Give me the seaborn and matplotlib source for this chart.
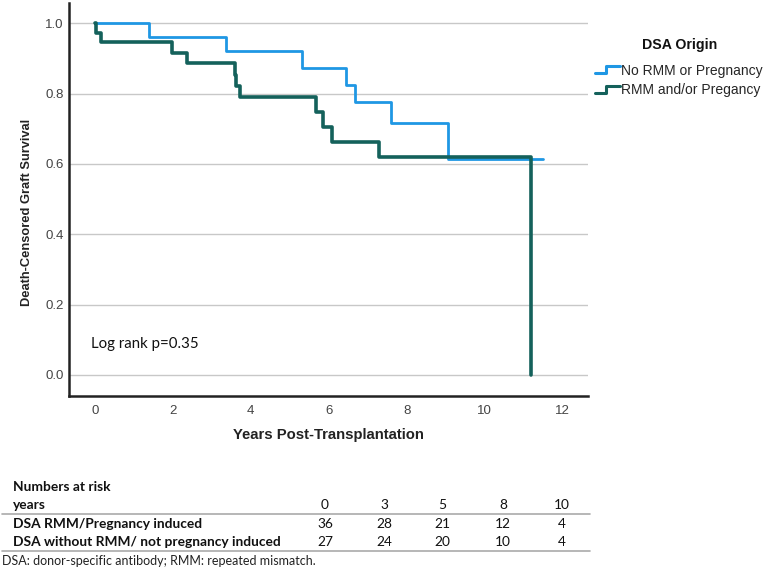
import numpy as np
import pandas as pd
import seaborn as sns
import matplotlib.pyplot as plt
from matplotlib.lines import Line2D
from matplotlib.legend_handler import HandlerBase

# Kaplan-Meier step values
no_rmm_years = [0, 1.38, 3.35, 5.31, 6.43, 6.66, 7.60, 9.05, 11.49]
no_rmm_surv = [1.0, 0.962, 0.920, 0.874, 0.825, 0.776, 0.717, 0.615, 0.615]
rmm_years = [0, 0.02, 0.15, 1.98, 2.37, 3.59, 3.63, 3.71, 5.66, 5.86, 6.07, 7.30, 11.19, 11.19]
rmm_surv = [1.0, 0.972, 0.946, 0.917, 0.886, 0.852, 0.822, 0.790, 0.747, 0.706, 0.663, 0.621, 0.621, 0.0]

groups = ["No RMM or Pregnancy", "RMM and/or Pregancy"]
colors = ["#1f97e4", "#14615b"]

# numbers at risk table
risk_years = [0, 3, 5, 8, 10]
risk_rmm = [36, 28, 21, 12, 4]
risk_no_rmm = [27, 24, 20, 10, 4]
risk_rows = ["DSA RMM/Pregnancy induced", "DSA without RMM/ not pregnancy induced"]

df = pd.concat([
    pd.DataFrame({"years": no_rmm_years, "surv": no_rmm_surv, "group": groups[0]}),
    pd.DataFrame({"years": rmm_years, "surv": rmm_surv, "group": groups[1]}),
], ignore_index=True)

sns.set_style("white")
plt.rcParams['font.family'] = ['Liberation Sans', 'DejaVu Sans']

W, H = 779, 571
fig = plt.figure(figsize=(W / 100, H / 100), dpi=100)
ax = fig.add_axes([69 / W, 1 - 395.7 / H, (588.3 - 69) / W, (395.7 - 3.3) / H])

for g, c, lw in zip(groups, colors, [2.0, 2.6]):
    sub = df[df["group"] == g]
    sns.lineplot(data=sub, x="years", y="surv", ax=ax, color=c, lw=lw,
                 drawstyle="steps-post", estimator=None, sort=False, legend=False)

ax.set_xlim(-0.667, 12.66)
ax.set_ylim(-0.059, 1.057)
ax.set_xticks(np.arange(0, 13, 2))
ax.set_yticks(np.arange(0, 1.01, 0.2))
ax.set_yticklabels([f"{v:.1f}" for v in np.arange(0, 1.01, 0.2)])
ax.grid(axis="y", color="#c8c8c8", lw=1)
ax.set_axisbelow(True)
ax.tick_params(length=0, labelsize=9.5, labelcolor="#444444")
ax.tick_params(axis="y", pad=4)
ax.tick_params(axis="x", pad=7)
for s in ["top", "right"]:
    ax.spines[s].set_visible(False)
for s in ["left", "bottom"]:
    ax.spines[s].set_color("#222222")
    ax.spines[s].set_linewidth(1.8)
ax.set_xlabel("")
ax.set_ylabel("")

fig.text(27 / W, 1 - 212 / H, "Death-Censored Graft Survival", rotation=90, ha="center", va="center",
         fontsize=9.3, fontweight="bold", color="#222222")
fig.text(328 / W, 1 - 435 / H, "Years Post-Transplantation", ha="center", va="center",
         fontsize=10.7, fontweight="bold", color="#222222")
fig.text(90.7 / W, 1 - 344 / H, "Log rank p=0.35", ha="left", va="center",
         fontsize=10.8, family="Lato", color="#111111")


class StepHandler(HandlerBase):
    def create_artists(self, legend, orig, xd, yd, w, h, fontsize, trans):
        xs = [xd, xd + w * 0.45, xd + w * 0.45, xd + w]
        ys = [yd + h * 0.15, yd + h * 0.15, yd + h * 0.85, yd + h * 0.85]
        ln = Line2D(xs, ys, color=orig.get_color(), lw=orig.get_linewidth())
        ln.set_transform(trans)
        return [ln]


fig.text(680 / W, 1 - 45 / H, "DSA Origin", ha="center", va="center",
         fontsize=10.2, fontweight="bold", color="#111111")
handles = [Line2D([], [], color=c, lw=2.2) for c in colors]
leg = fig.legend(handles, groups, loc="upper left",
                 bbox_to_anchor=(595 / W, 1 - 63.5 / H), frameon=False, fontsize=10,
                 handler_map={Line2D: StepHandler()}, handlelength=1.8,
                 handletextpad=0.1, labelspacing=0.42, borderaxespad=0, borderpad=0)

# numbers at risk table
tfont = dict(family="Lato", fontsize=9.9, color="#111111")
col_x = [325, 384, 442, 503, 562]
fig.text(13 / W, 1 - 487 / H, "Numbers at risk", ha="left", va="center", fontweight="bold", **tfont)
fig.text(13 / W, 1 - 505 / H, "years", ha="left", va="center", fontweight="bold", **tfont)
for x, yr, a, b in zip(col_x, risk_years, risk_rmm, risk_no_rmm):
    fig.text(x / W, 1 - 505 / H, str(yr), ha="center", va="center", **tfont)
    fig.text(x / W, 1 - 524 / H, str(a), ha="center", va="center", **tfont)
    fig.text(x / W, 1 - 542 / H, str(b), ha="center", va="center", **tfont)
fig.text(13 / W, 1 - 524 / H, risk_rows[0], ha="left", va="center", fontweight="bold", **tfont)
fig.text(13 / W, 1 - 542 / H, risk_rows[1], ha="left", va="center", fontweight="bold", **tfont)
for yy in [513.5, 551]:
    fig.add_artist(Line2D([2 / W, 590 / W], [1 - yy / H] * 2, color="#aaaaaa", lw=1.2))
fig.text(2 / W, 1 - 561 / H, "DSA: donor-specific antibody; RMM: repeated mismatch.",
         ha="left", va="center", family="Lato", fontsize=9.0, color="#222222")

fig.savefig("out.png", dpi=100)
